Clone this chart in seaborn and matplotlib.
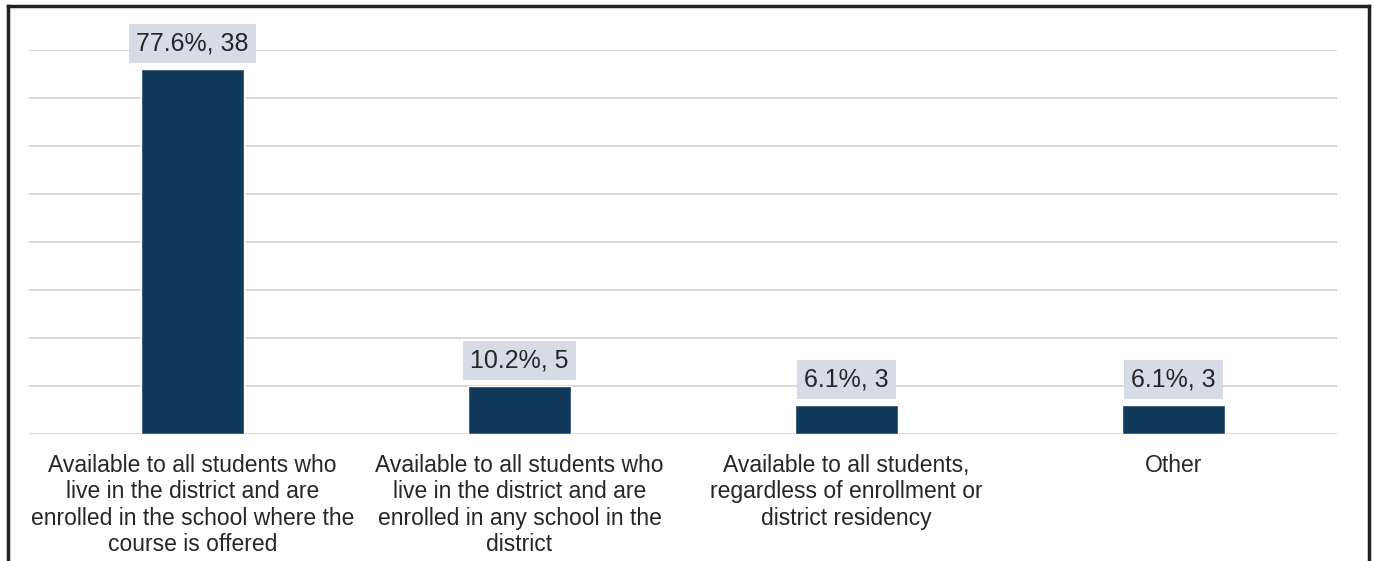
import matplotlib
matplotlib.use("Agg")
import matplotlib.pyplot as plt
from matplotlib.lines import Line2D
import seaborn as sns
import pandas as pd

categories = [
    "Available to all students who\nlive in the district and are\nenrolled in the school where the\ncourse is offered",
    "Available to all students who\nlive in the district and are\nenrolled in any school in the\ndistrict",
    "Available to all students,\nregardless of enrollment or\ndistrict residency",
    "Other",
]
counts = [38, 5, 3, 3]
percents = [77.6, 10.2, 6.1, 6.1]

BAR_COLOR = "#0F3A5C"
LABEL_BG = "#D6DCE5"
GRID_COLOR = "#D9D9D9"

sns.set_theme(style="white")
plt.rcParams["font.family"] = ["Liberation Sans", "DejaVu Sans"]

df = pd.DataFrame({"category": categories, "count": counts, "pct": percents})

W, H, DPI = 1374, 561, 100
fig = plt.figure(figsize=(W / DPI, H / DPI), dpi=DPI)
ax = fig.add_axes([29 / W, (H - 434) / H, (1337 - 29) / W, (434 - 50) / H])

sns.barplot(data=df, x="category", y="count", color=BAR_COLOR, width=0.315,
            saturation=1, ax=ax, zorder=3)

ax.set_ylim(0, 40)
ax.set_yticks(range(0, 41, 5))
ax.yaxis.grid(True, color=GRID_COLOR, linewidth=1.5, zorder=0)
ax.set_axisbelow(True)
ax.tick_params(axis="y", left=False, labelleft=False)
ax.tick_params(axis="x", length=0, pad=14.5, labelsize=16.5, labelcolor="#262626")
for lbl in ax.get_xticklabels():
    lbl.set_linespacing(1.18)
for s in ax.spines.values():
    s.set_visible(False)
ax.set_xlabel("")
ax.set_ylabel("")

for i, (n, p) in enumerate(zip(counts, percents)):
    ax.annotate(f"{p}%, {n}", xy=(i, n), xytext=(0, 18.4), textcoords="offset points",
                ha="center", va="center", fontsize=18, color="#262626", zorder=5,
                bbox=dict(boxstyle="square,pad=0.29", facecolor=LABEL_BG, edgecolor="none"))

# open-bottom frame around the figure
lw = 2.5
frame_kw = dict(color="#222222", linewidth=lw, transform=fig.transFigure, solid_capstyle="projecting")
x0, x1, y_top = 7.5 / W, 1369 / W, 1 - 5.5 / H
fig.add_artist(Line2D([x0, x0], [0, y_top], **frame_kw))
fig.add_artist(Line2D([x0, x1], [y_top, y_top], **frame_kw))
fig.add_artist(Line2D([x1, x1], [0, y_top], **frame_kw))

fig.savefig("out.png", dpi=DPI)
